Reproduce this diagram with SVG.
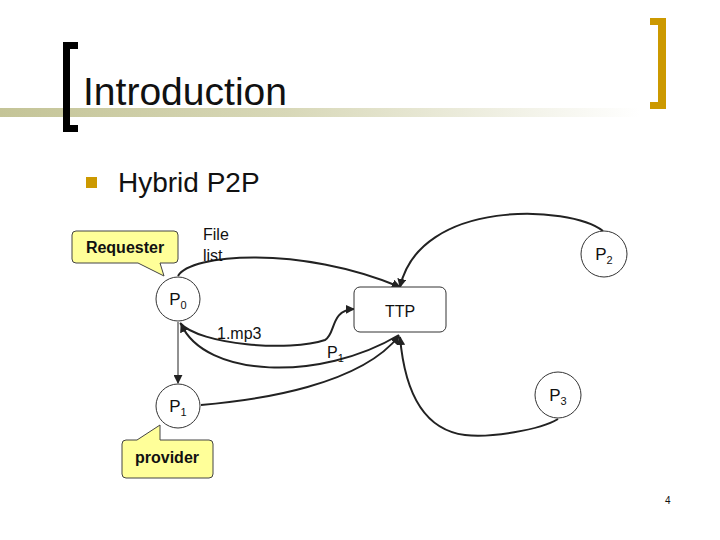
<svg xmlns="http://www.w3.org/2000/svg" width="720" height="540" viewBox="0 0 720 540">
<defs>
<linearGradient id="bar" x1="0" y1="0" x2="1" y2="0">
<stop offset="0" stop-color="#c4c497"/>
<stop offset="0.45" stop-color="#d8d8b8"/>
<stop offset="1" stop-color="#ffffff"/>
</linearGradient>
<marker id="arr" viewBox="0 0 10 10" refX="9" refY="5" markerWidth="9" markerHeight="9" markerUnits="userSpaceOnUse" orient="auto">
<path d="M0,0 L10,5 L0,10 z" fill="#222"/>
</marker>
<marker id="arrS" viewBox="0 0 10 10" refX="1" refY="5" markerWidth="9" markerHeight="9" markerUnits="userSpaceOnUse" orient="auto">
<path d="M10,0 L0,5 L10,10 z" fill="#222"/>
</marker>
</defs>
<style>
.t{font-family:"Liberation Sans",Arial,sans-serif;fill:#111}
.node{fill:#fff;stroke:#333;stroke-width:1}
.call{fill:#ffff99;stroke:#444;stroke-width:1}
.conn{fill:none;stroke:#222;stroke-width:2}
.thin{fill:none;stroke:#222;stroke-width:1}
</style>
<rect width="720" height="540" fill="#fff"/>
<!-- title decoration -->
<rect x="0" y="108" width="640" height="9" fill="url(#bar)"/>
<path d="M78,42 H63 V132 H78 V125 H70 V49 H78 Z" fill="#000"/>
<path d="M650,18 H666 V109 H650 V102 H658 V25 H650 Z" fill="#cc9900"/>
<text class="t" x="83" y="105" font-size="38" textLength="204" lengthAdjust="spacingAndGlyphs">Introduction</text>
<rect x="86" y="177" width="11" height="11" fill="#cc9900"/>
<text class="t" x="118" y="192" font-size="28">Hybrid P2P</text>

<g id="connectors">
<path class="conn" d="M178,276 C190,254 300,245 400,287" marker-end="url(#arr)"/>
<path class="conn" d="M603,231 C570,205 420,198 400,287" marker-end="url(#arr)"/>
<path class="conn" d="M180,323 C200,345 290,352 325,340 C336,334 330,310 354,309" marker-end="url(#arr)"/>
<path class="conn" d="M399,335 C320,382 205,378 181,324" marker-end="url(#arr)"/>
<path class="conn" d="M201,405 C260,400 360,385 399,336" marker-end="url(#arr)"/>
<path class="conn" d="M558,419 C540,430 490,438 465,435 C425,430 405,395 400,337" marker-end="url(#arr)"/>
<path class="thin" d="M178,322 V383" marker-end="url(#arr)"/>
<text class="t" x="217" y="339" font-size="16">1.mp3</text>
<text class="t" x="327" y="358" font-size="16">P<tspan dy="4" font-size="11">1</tspan></text>
<text class="t" x="203" y="240" font-size="16">File</text>
<text class="t" x="203" y="261" font-size="16">list</text>
</g>

<g id="requester">
<path class="call" d="M76,231 H174 Q178,231 178,235 V259 Q178,263 174,263 H160 L164,276 L138,263 H76 Q72,263 72,259 V235 Q72,231 76,231 Z"/>
<text class="t" x="125" y="253" font-size="16" font-weight="bold" text-anchor="middle">Requester</text>
</g>
<g id="P0">
<circle class="node" cx="178" cy="299" r="22"/>
<text class="t" x="178" y="305" font-size="17" text-anchor="middle">P<tspan dy="4" font-size="11">0</tspan></text>
</g>
<g id="TTP">
<rect class="node" x="354" y="287" width="92" height="45" rx="6"/>
<text class="t" x="400" y="317" font-size="16" text-anchor="middle">TTP</text>
</g>
<g id="P2">
<circle class="node" cx="604" cy="254" r="23"/>
<text class="t" x="604" y="260" font-size="17" text-anchor="middle">P<tspan dy="4" font-size="11">2</tspan></text>
</g>
<g id="P1">
<circle class="node" cx="178" cy="406" r="22"/>
<text class="t" x="178" y="412" font-size="17" text-anchor="middle">P<tspan dy="4" font-size="11">1</tspan></text>
</g>
<g id="P3">
<circle class="node" cx="558" cy="395" r="23"/>
<text class="t" x="558" y="401" font-size="17" text-anchor="middle">P<tspan dy="4" font-size="11">3</tspan></text>
</g>
<g id="provider">
<path class="call" d="M126,440 H137 L160,425 V440 H209 Q213,440 213,444 V474 Q213,478 209,478 H126 Q122,478 122,474 V444 Q122,440 126,440 Z"/>
<text class="t" x="167" y="463" font-size="16" font-weight="bold" text-anchor="middle">provider</text>
</g>
<text class="t" x="665" y="504" font-size="10" fill="#333">4</text>
</svg>
